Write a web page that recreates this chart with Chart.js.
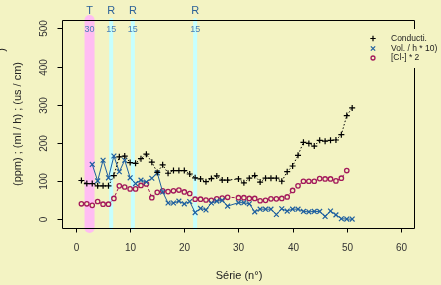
<!DOCTYPE html>
<html>
<head>
<meta charset="utf-8">
<script src="https://cdn.jsdelivr.net/npm/chart.js@4.4.1/dist/chart.umd.min.js"></script>
<style>
  html, body { margin: 0; padding: 0; background: #f3f3c3; }
  canvas { display: block; }
</style>
</head>
<body>
<canvas id="chart" width="441" height="285"></canvas>
<script>
// Série number (x) for every sample
const serie = [1, 2, 3, 4, 5, 6, 7, 8, 9, 10, 11, 12, 13, 14, 15, 16, 17, 18, 19, 20,
  21, 22, 23, 24, 25, 26, 27, 28, 29, 30, 31, 32, 33, 34, 35, 36, 37, 38, 39, 40,
  41, 42, 43, 44, 45, 46, 47, 48, 49, 50, 51];

// Conductivité (us / cm)
const conducti = [102, 94, 94, 88, 88, 88, 115, 164, 166, 149, 147, 159, 171, 150, 123, 143, 121, 128, 128, 128,
  119, 109, 106, 99, 107, 114, 103, 103, null, 106, 96, 108, 115, 98, 108, 108, 108, 100, 125, 140,
  168, 202, 199, 192, 207, 205, 207, 208, 222, 272, 292];

// Volume / h * 10
const volume = [null, null, 144, 101, 155, 109, 166, 125, 155, 109, 94, 103, 98, 108, 122, 72, 43, 43, 48, 41,
  47, 18, 29, 25, 43, 48, 50, 35, null, 44, 44, 41, 20, 27, 27, 27, 13, 28, 22, 27,
  27, 21, 20, 21, 21, 8, 22, 12, 2, 1, 1];

// [Cl-] * 2
const chlorure = [41, 41, 37, 47, 40, 40, 55, 88, 85, 80, 80, 89, 93, 57, 71, 75, 73, 75, 77, 72,
  68, 53, 53, 51, 50, 54, 56, 58, null, 57, 57, 55, 55, 49, 50, 54, 54, 55, 59, 76,
  88, 100, 100, 100, 107, 106, 106, 101, 108, 128, null];

const seriesLabels = ['Conducti.', 'Vol. / h * 10)', '[Cl-] * 2'];

// markers above the plot: position, letter, number
const bandPos = [2.5, 6.5, 10.5, 22];
const bandLetter = ['T', 'R', 'R', 'R'];
const bandNum = ['30', '15', '15', '15'];

const xTicks = [0, 10, 20, 30, 40, 50, 60];
const yTicks = [0, 100, 200, 300, 400, 500];

const FONT = '"Liberation Sans", Arial, sans-serif';
const BG = '#f3f3c3';

function points(values) {
  return serie.map((x, i) => ({ x: x, y: values[i] }));
}

const framePlugin = {
  id: 'frame',
  beforeDraw(chart) {
    const ctx = chart.ctx;
    ctx.save();
    ctx.fillStyle = BG;
    ctx.fillRect(0, 0, chart.width, chart.height);
    ctx.restore();
  },
  beforeDatasetsDraw(chart) {
    const ctx = chart.ctx;
    const area = chart.chartArea;
    const xs = chart.scales.x;
    ctx.save();
    ctx.lineCap = 'round';
    bandPos.forEach((pos, i) => {
      const px = xs.getPixelForValue(pos);
      const isT = bandLetter[i] === 'T';
      ctx.strokeStyle = isT ? '#ffbdf2' : '#c6ffff';
      ctx.lineWidth = isT ? 10 : 4;
      ctx.beginPath();
      ctx.moveTo(px, area.top);
      ctx.lineTo(px, area.bottom);
      ctx.stroke();
    });
    ctx.restore();
  },
  afterDatasetsDraw(chart) {
    const ctx = chart.ctx;
    const area = chart.chartArea;
    const xs = chart.scales.x;
    const ys = chart.scales.y;
    const L = Math.round(area.left) - 0.5;
    const R = Math.round(area.right) - 0.5;
    const T = Math.round(area.top) + 0.5;
    const B = Math.round(area.bottom) + 0.5;

    ctx.save();
    // box, with a gap on the right where the legend sits
    ctx.strokeStyle = '#000';
    ctx.lineWidth = 1;
    ctx.beginPath();
    ctx.moveTo(R, 29); ctx.lineTo(R, T); ctx.lineTo(L, T); ctx.lineTo(L, B); ctx.lineTo(R, B); ctx.lineTo(R, 68);
    ctx.stroke();

    // x ticks
    ctx.fillStyle = '#333';
    ctx.font = '10px ' + FONT;
    ctx.textAlign = 'center';
    ctx.textBaseline = 'middle';
    xTicks.forEach(v => {
      const px = Math.round(xs.getPixelForValue(v)) + 0.5;
      ctx.beginPath();
      ctx.moveTo(px, B); ctx.lineTo(px, B + 4);
      ctx.stroke();
      ctx.fillText(String(v), px, 248);
    });

    // y ticks, labels rotated
    yTicks.forEach(v => {
      const py = Math.round(ys.getPixelForValue(v)) + 0.5;
      ctx.beginPath();
      ctx.moveTo(L, py); ctx.lineTo(L - 5, py);
      ctx.stroke();
      ctx.save();
      ctx.translate(44, py);
      ctx.rotate(-Math.PI / 2);
      ctx.fillText(String(v), 0, 0);
      ctx.restore();
    });

    // axis titles
    ctx.fillStyle = '#222';
    ctx.font = '11px ' + FONT;
    ctx.fillText('Série (n°)', (area.left + area.right) / 2, 276);
    ctx.save();
    ctx.translate(18, (area.top + area.bottom) / 2);
    ctx.rotate(-Math.PI / 2);
    ctx.fillText('(ppm) ; (ml / h) ; (us / cm)', 0, 0);
    ctx.restore();
    ctx.save();
    ctx.translate(2, 50);
    ctx.rotate(-Math.PI / 2);
    ctx.fillText(')', 0, 0);
    ctx.restore();

    // band labels above the plot
    bandPos.forEach((pos, i) => {
      const px = xs.getPixelForValue(pos);
      ctx.fillStyle = '#2d6298';
      ctx.font = '11px ' + FONT;
      ctx.fillText(bandLetter[i], px, 11);
      ctx.fillStyle = '#4a7fb5';
      ctx.font = '9px ' + FONT;
      ctx.fillText(bandNum[i], px, 30);
    });

    // legend
    const rows = [38.5, 48.5, 58];
    ctx.textAlign = 'left';
    ctx.font = '8.5px ' + FONT;
    chart.data.datasets.forEach((ds, i) => {
      ctx.strokeStyle = ds.borderColor;
      ctx.fillStyle = BG;
      ctx.lineWidth = ds.pointBorderWidth;
      Chart.helpers.drawPoint(ctx, {
        pointStyle: ds.pointStyle,
        radius: ds.pointRadius * 0.9,
        rotation: 0,
        borderWidth: ds.pointBorderWidth
      }, 373, rows[i]);
      ctx.fillStyle = '#222';
      ctx.fillText(seriesLabels[i], 391, rows[i]);
    });
    ctx.restore();
  }
};

new Chart(document.getElementById('chart'), {
  type: 'scatter',
  data: {
    datasets: [
      {
        label: seriesLabels[0],
        data: points(conducti),
        showLine: true,
        spanGaps: true,
        borderColor: '#000000',
        pointBorderColor: '#000000',
        pointBackgroundColor: '#000000',
        borderWidth: 1,
        borderDash: [1.5, 2],
        pointStyle: 'cross',
        pointRadius: 3,
        pointBorderWidth: 1.2
      },
      {
        label: seriesLabels[1],
        data: points(volume),
        showLine: true,
        spanGaps: true,
        borderColor: '#1e5f9f',
        pointBorderColor: '#1e5f9f',
        pointBackgroundColor: '#1e5f9f',
        borderWidth: 1,
        pointStyle: 'crossRot',
        pointRadius: 3.4,
        pointBorderWidth: 1.2
      },
      {
        label: seriesLabels[2],
        data: points(chlorure),
        showLine: true,
        spanGaps: true,
        borderColor: '#a3195b',
        pointBorderColor: '#a3195b',
        pointBackgroundColor: BG,
        borderWidth: 1,
        borderDash: [3, 2],
        pointStyle: 'circle',
        pointRadius: 2.2,
        pointBorderWidth: 1.3
      }
    ]
  },
  options: {
    responsive: false,
    devicePixelRatio: 1,
    animation: false,
    layout: { padding: { left: 63, right: 26, top: 20, bottom: 57 } },
    plugins: { legend: { display: false }, tooltip: { enabled: false } },
    scales: {
      x: { type: 'linear', min: -2.4, max: 62.6, display: false },
      y: { type: 'linear', min: -22.3, max: 522, display: false }
    }
  },
  plugins: [framePlugin]
});
</script>
</body>
</html>
